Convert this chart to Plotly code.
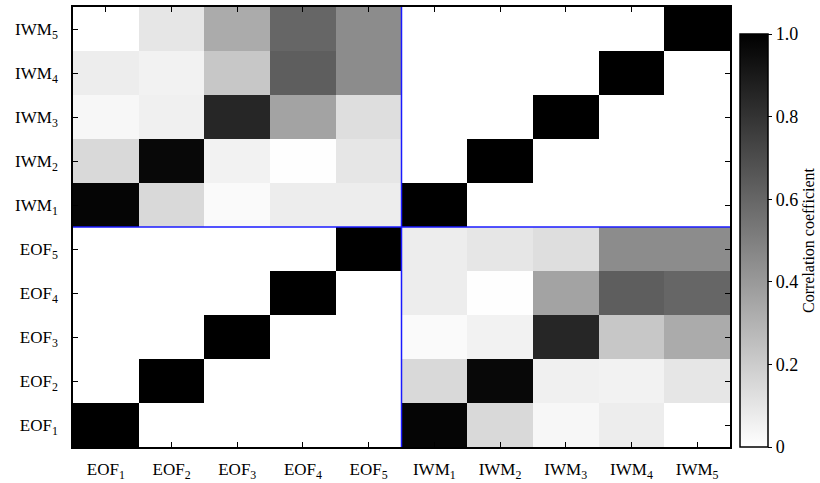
import plotly.graph_objects as go

labels = ["EOF<sub>1</sub>", "EOF<sub>2</sub>", "EOF<sub>3</sub>", "EOF<sub>4</sub>", "EOF<sub>5</sub>",
          "IWM<sub>1</sub>", "IWM<sub>2</sub>", "IWM<sub>3</sub>", "IWM<sub>4</sub>", "IWM<sub>5</sub>"]

# Cross-correlation between IWM_j (rows) and EOF_i (columns)
iwm1_vs_eof = [0.98, 0.15, 0.02, 0.07, 0.07]
iwm2_vs_eof = [0.15, 0.97, 0.05, 0.005, 0.10]
iwm3_vs_eof = [0.03, 0.06, 0.85, 0.36, 0.13]
iwm4_vs_eof = [0.07, 0.05, 0.22, 0.63, 0.45]
iwm5_vs_eof = [0.00, 0.10, 0.33, 0.60, 0.45]

cross = [iwm1_vs_eof, iwm2_vs_eof, iwm3_vs_eof, iwm4_vs_eof, iwm5_vs_eof]

cbar_tickvals = [0, 0.2, 0.4, 0.6, 0.8, 1.0]
cbar_ticktext = ["0", "0.2", "0.4", "0.6", "0.8", "1.0"]

n = 5
z = [[0.0] * (2 * n) for _ in range(2 * n)]
for i in range(n):
    z[i][i] = 1.0
    z[n + i][n + i] = 1.0
for j in range(n):
    for i in range(n):
        z[n + j][i] = cross[j][i]   # IWM rows, EOF cols
        z[i][n + j] = cross[j][i]   # EOF rows, IWM cols

idx = list(range(2 * n))
font = "Liberation Serif"

W, H = 820, 483
px_left, px_right, px_top, px_bottom = 73, 730, 7, 447

fig = go.Figure(go.Heatmap(
    z=z, x=idx, y=idx,
    zmin=0, zmax=1,
    colorscale=[[0, "#ffffff"], [1, "#000000"]],
    colorbar=dict(
        title=dict(text="Correlation coefficient", side="right",
                   font=dict(family=font, size=16, color="black")),
        tickvals=cbar_tickvals, ticktext=cbar_ticktext,
        tickfont=dict(family=font, size=18, color="black"),
        ticks="outside", ticklen=4, tickcolor="black",
        outlinewidth=1.5, outlinecolor="black",
        thickness=28, thicknessmode="pixels",
        len=413, lenmode="pixels",
        x=740 / W, xanchor="left", y=(H - 240.5) / H, yanchor="middle",
        ypad=0, xpad=0,
    ),
))

axis_common = dict(
    tickmode="array", tickvals=idx, ticktext=labels,
    range=[-0.5, 9.5],
    ticks="inside", ticklen=5, tickcolor="black", tickwidth=1,
    showline=True, linecolor="black", linewidth=1.5, mirror="ticks",
    showgrid=False, zeroline=False, automargin=False,
    tickfont=dict(family=font, size=17, color="black"),
)

fig.update_xaxes(domain=[px_left / W, px_right / W], ticklabelstandoff=6, **axis_common)
fig.update_yaxes(domain=[(H - px_bottom) / H, (H - px_top) / H], ticklabelstandoff=10, **axis_common)

fig.add_shape(type="line", x0=4.5, x1=4.5, y0=-0.5, y1=9.5,
              line=dict(color="#1a1aff", width=1.5), layer="above")
fig.add_shape(type="line", x0=-0.5, x1=9.5, y0=4.5, y1=4.5,
              line=dict(color="#1a1aff", width=1.5), layer="above")

fig.update_layout(
    width=W, height=H,
    margin=dict(l=0, r=0, t=0, b=0, autoexpand=False),
    paper_bgcolor="white", plot_bgcolor="white",
    font=dict(family=font, color="black"),
)

fig.write_html("out.html", config={"displayModeBar": False},
               post_script="document.body.style.margin='0';document.body.style.overflow='hidden';")
